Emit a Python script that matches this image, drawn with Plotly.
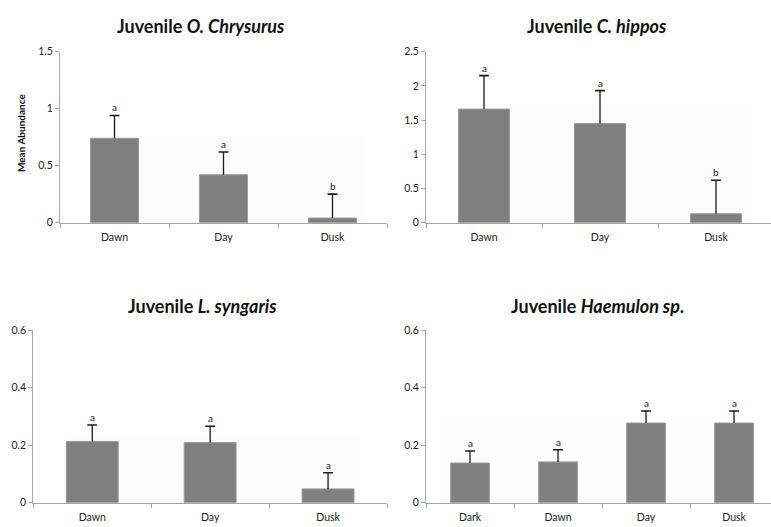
import plotly.graph_objects as go

# Mean abundance per diel period for four juvenile taxa (upper error = SE)
cats_3 = ["Dawn", "Day", "Dusk"]
cats_4 = ["Dark", "Dawn", "Day", "Dusk"]

chrysurus_mean = [0.74, 0.42, 0.04]
chrysurus_err = [0.20, 0.20, 0.21]
chrysurus_sig = ["a", "a", "b"]

hippos_mean = [1.66, 1.45, 0.13]
hippos_err = [0.49, 0.48, 0.49]
hippos_sig = ["a", "a", "b"]

syngaris_mean = [0.213, 0.209, 0.048]
syngaris_err = [0.057, 0.057, 0.056]
syngaris_sig = ["a", "a", "a"]

haemulon_mean = [0.138, 0.142, 0.277, 0.277]
haemulon_err = [0.042, 0.042, 0.042, 0.042]
haemulon_sig = ["a", "a", "a", "a"]

y_ticks_top_left = [0, 0.5, 1, 1.5]
y_ticks_top_right = [0, 0.5, 1, 1.5, 2, 2.5]
y_ticks_bottom = [0, 0.2, 0.4, 0.6]

W, H = 771, 527
FONT = "Lato, 'Open Sans', sans-serif"
BAR = "#7f7f7f"
AXIS = "#a6a6a6"
ERR = "#1a1a1a"


def px_x(p):
    return p / W


def px_y(p):
    return (H - p) / H


panels = [
    dict(cats=cats_3, mean=chrysurus_mean, err=chrysurus_err, sig=chrysurus_sig,
         title="Juvenile <i>O. Chrysurus</i>", xdom=(60, 387), ydom=(221.7, 46.7),
         yrange=[0, 1.5], ticks=y_ticks_top_left, xr=[-0.5, 2.5], title_xy=(201, 20)),
    dict(cats=cats_3, mean=hippos_mean, err=hippos_err, sig=hippos_sig,
         title="Juvenile <i>C. hippos</i>", xdom=(426, 771), ydom=(221.7, 46.7),
         yrange=[0, 2.5], ticks=y_ticks_top_right, xr=[-0.5, 2.474], title_xy=(597, 20)),
    dict(cats=cats_3, mean=syngaris_mean, err=syngaris_err, sig=syngaris_sig,
         title="Juvenile <i>L. syngaris</i>", xdom=(33.3, 387), ydom=(508.3, 331.7),
         yrange=[0, 0.6], ticks=y_ticks_bottom, xr=[-0.5, 2.5], title_xy=(202, 306.5)),
    dict(cats=cats_4, mean=haemulon_mean, err=haemulon_err, sig=haemulon_sig,
         title="Juvenile <i>Haemulon sp</i>.", xdom=(426, 771), ydom=(508.3, 331.7),
         yrange=[0, 0.6], ticks=y_ticks_bottom, xr=[-0.5, 3.42], title_xy=(597.5, 306.5)),
]

# faint backdrop panels behind the bars (paper pixels: x0, x1, y_top, y_bottom)
backdrops = [(92, 364, 133, 221), (460, 752, 100, 221), (68, 360, 442, 508), (445, 755, 420, 508)]

fig = go.Figure()
annotations = []
shapes = []

for b in backdrops:
    shapes.append(dict(type="rect", xref="paper", yref="paper", layer="below",
                       x0=px_x(b[0]), x1=px_x(b[1]), y0=px_y(b[3]), y1=px_y(b[2]),
                       fillcolor="#fcfcfc", line=dict(width=0)))

for i, p in enumerate(panels, start=1):
    xa = "x" if i == 1 else f"x{i}"
    ya = "y" if i == 1 else f"y{i}"
    fig.add_trace(go.Bar(
        x=p["cats"], y=p["mean"], xaxis=xa, yaxis=ya, width=0.44,
        marker=dict(color=BAR, line=dict(color="#9a9a9a", width=1)),
        showlegend=False, hoverinfo="x+y",
    ))
    # upper-only error whiskers: stem from bar top to mean+err, cap at the top
    sx, sy = [], []
    for c, m, e in zip(p["cats"], p["mean"], p["err"]):
        sx += [c, c, None]
        sy += [m, m + e, None]
    fig.add_trace(go.Scatter(x=sx, y=sy, xaxis=xa, yaxis=ya, mode="lines",
                             line=dict(color=ERR, width=1.3), showlegend=False,
                             hoverinfo="skip"))
    fig.add_trace(go.Scatter(x=p["cats"], y=[m + e for m, e in zip(p["mean"], p["err"])],
                             xaxis=xa, yaxis=ya, mode="markers",
                             marker=dict(symbol="line-ew", size=7,
                                         line=dict(color=ERR, width=1.6)),
                             showlegend=False, hoverinfo="skip"))
    for c, m, e, s in zip(p["cats"], p["mean"], p["err"], p["sig"]):
        annotations.append(dict(x=c, y=m + e, xref=xa, yref=ya, text=s, showarrow=False,
                                yanchor="bottom", yshift=0,
                                font=dict(family=FONT, size=10, color="#222")))
    axkey = "xaxis" if i == 1 else f"xaxis{i}"
    aykey = "yaxis" if i == 1 else f"yaxis{i}"
    fig.update_layout(**{
        axkey: dict(domain=[px_x(p["xdom"][0]), px_x(p["xdom"][1])], anchor=ya,
                    type="category", range=p["xr"], showgrid=False, zeroline=False,
                    showline=True, linecolor=AXIS, linewidth=1,
                    ticks="outside", tickson="boundaries", ticklen=4, tickcolor=AXIS,
                    ticklabelstandoff=5,
                    tickfont=dict(family=FONT, size=10.5, color="#222")),
        aykey: dict(domain=[px_y(p["ydom"][0]), px_y(p["ydom"][1])], anchor=xa,
                    range=p["yrange"], tickvals=p["ticks"],
                    ticktext=[f"{t:g}" for t in p["ticks"]],
                    showgrid=False, zeroline=False, showline=True, linecolor=AXIS,
                    linewidth=1, ticks="outside", ticklen=4, tickcolor=AXIS,
                    tickfont=dict(family=FONT, size=10.5, color="#222")),
    })
    annotations.append(dict(x=px_x(p["title_xy"][0]), y=px_y(p["title_xy"][1]),
                            xref="paper", yref="paper", text=f"<b>{p['title']}</b>",
                            showarrow=False, xanchor="center", yanchor="middle",
                            font=dict(family=FONT, size=18, color="#111")))

annotations.append(dict(x=px_x(21), y=px_y(130), xref="paper", yref="paper",
                        text="<b>Mean Abundance</b>", textangle=-90, showarrow=False,
                        xanchor="center", yanchor="middle",
                        font=dict(family=FONT, size=10, color="#111")))

fig.update_layout(width=W, height=H, margin=dict(l=0, r=0, t=0, b=0),
                  paper_bgcolor="white", plot_bgcolor="rgba(0,0,0,0)",
                  annotations=annotations, shapes=shapes, bargap=0.5)

fig.write_html("out.html")
